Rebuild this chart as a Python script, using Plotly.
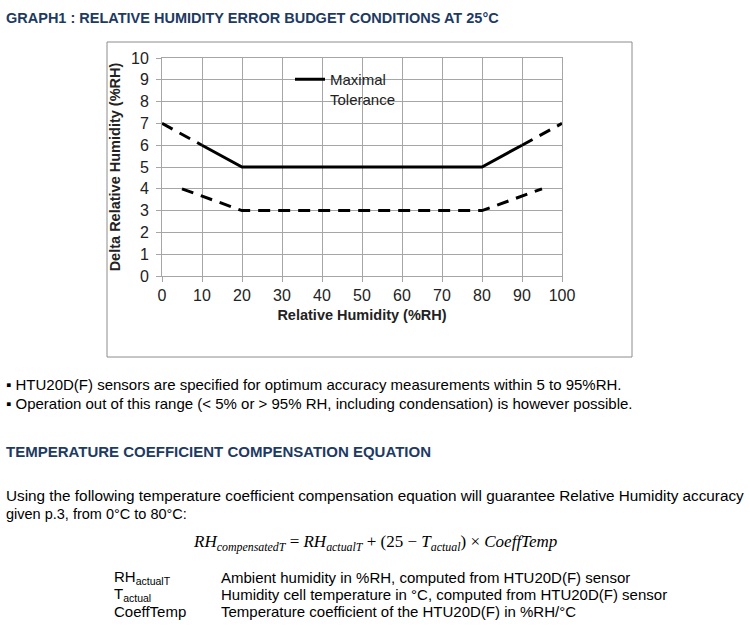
import plotly.graph_objects as go

# ---- data ----
upper_left_x = [0, 10]
upper_left_y = [7, 6]
upper_mid_x = [10, 20, 80, 90]
upper_mid_y = [6, 5, 5, 6]
upper_right_x = [90, 100]
upper_right_y = [6, 7]
lower_x = [5, 20, 80, 95]
lower_y = [4, 3, 3, 4]
x_ticks = [0, 10, 20, 30, 40, 50, 60, 70, 80, 90, 100]
y_ticks = [0, 1, 2, 3, 4, 5, 6, 7, 8, 9, 10]

W, H = 750, 638
L, R, T, B = 162, 562, 58, 276  # plot area in pixels


def px(x):
    return (x - L) / (R - L)


def py(y):
    return (B - y) / (B - T)


NAVY = "#1d3a63"
FONT = "Liberation Sans, Arial, sans-serif"
SERIF = "Liberation Serif, Times New Roman, serif"
DASH = "12px,8px"

fig = go.Figure()
fig.add_trace(go.Scatter(x=upper_left_x, y=upper_left_y, mode="lines",
                         line=dict(color="black", width=3, dash=DASH), showlegend=False))
fig.add_trace(go.Scatter(x=upper_mid_x, y=upper_mid_y, mode="lines",
                         line=dict(color="black", width=3), name="Maximal<br>Tolerance", showlegend=True))
fig.add_trace(go.Scatter(x=upper_right_x, y=upper_right_y, mode="lines",
                         line=dict(color="black", width=3, dash=DASH), showlegend=False))
fig.add_trace(go.Scatter(x=lower_x, y=lower_y, mode="lines",
                         line=dict(color="black", width=3, dash=DASH), showlegend=False))

annotations = []


def text(x, y, s, size=15, color="black", bold=False, family=FONT, xanchor="left", yanchor="middle"):
    if bold:
        s = "<b>" + s + "</b>"
    annotations.append(dict(x=px(x), y=py(y), xref="paper", yref="paper", text=s, showarrow=False,
                            xanchor=xanchor, yanchor=yanchor, align="left",
                            font=dict(size=size, color=color, family=family)))


text(4, 18, "GRAPH1 : RELATIVE HUMIDITY ERROR BUDGET CONDITIONS AT 25°C", size=14.5, color=NAVY, bold=True)
text(4, 384, "▪ HTU20D(F) sensors are specified for optimum accuracy measurements within 5 to 95%RH.", size=15)
text(4, 403, "▪ Operation out of this range (< 5% or > 95% RH, including condensation) is however possible.", size=15)
text(4, 451, "TEMPERATURE COEFFICIENT COMPENSATION EQUATION", size=15, color=NAVY, bold=True)
text(4, 496, "Using the following temperature coefficient compensation equation will guarantee Relative Humidity accuracy", size=15.3)
text(4, 514, "given p.3, from 0°C to 80°C:", size=14.5)
text(375, 543, "<i>RH</i><sub><i>compensatedT</i></sub> = <i>RH</i><sub><i>actualT</i></sub> + (25 − <i>T</i><sub><i>actual</i></sub>) × <i>CoeffTemp</i>",
     size=17, family=SERIF, xanchor="center")
text(112, 577, "RH<sub>actualT</sub>", size=15)
text(112, 594, "T<sub>actual</sub>", size=15)
text(112, 611, "CoeffTemp", size=15)
text(219, 577, "Ambient humidity in %RH, computed from HTU20D(F) sensor", size=15)
text(219, 594, "Humidity cell temperature in °C, computed from HTU20D(F) sensor", size=15)
text(219, 611, "Temperature coefficient of the HTU20D(F) in %RH/°C", size=15)

shapes = [dict(type="rect", xref="paper", yref="paper", x0=px(107), x1=px(632), y0=py(42), y1=py(357),
               line=dict(color="#8c8c8c", width=1), fillcolor="rgba(0,0,0,0)", layer="below")]

fig.update_layout(
    width=W, height=H,
    margin=dict(l=L, r=W - R, t=T, b=H - B, autoexpand=False),
    paper_bgcolor="white", plot_bgcolor="white",
    font=dict(family=FONT, color="black"),
    showlegend=True,
    legend=dict(x=px(290), y=py(63), xanchor="left", yanchor="top", bgcolor="rgba(0,0,0,0)",
                font=dict(size=15, family=FONT, color="#222"), valign="top", itemwidth=30,
                tracegroupgap=0),
    annotations=annotations,
    shapes=shapes,
)
fig.update_xaxes(range=[0, 100], tickvals=x_ticks, showgrid=True, gridcolor="#a6a6a6", gridwidth=1,
                 zeroline=False, showline=True, linecolor="#a6a6a6", mirror=True,
                 ticks="outside", ticklen=5, tickcolor="#a6a6a6",
                 tickfont=dict(size=16, color="#222"),
                 title=dict(text="<b>Relative Humidity (%RH)</b>", font=dict(size=14.5, color="#222"), standoff=6))
fig.update_yaxes(range=[0, 10], tickvals=y_ticks, showgrid=True, gridcolor="#a6a6a6", gridwidth=1,
                 zeroline=False, showline=True, linecolor="#a6a6a6", mirror=True,
                 ticks="outside", ticklen=5, tickcolor="#a6a6a6", ticklabelstandoff=4,
                 tickfont=dict(size=16, color="#222"),
                 title=dict(text="<b>Delta Relative Humidity (%RH)</b>", font=dict(size=14.5, color="#222"), standoff=6))

fig.write_html("out.html", config={"displayModeBar": False},
               post_script="document.body.style.margin='0px';")
